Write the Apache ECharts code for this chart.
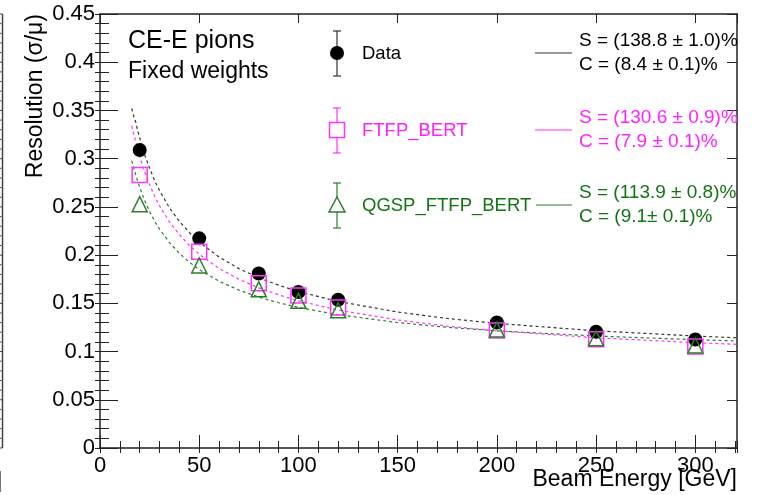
<!DOCTYPE html>
<html>
<head>
<meta charset="utf-8">
<script src="https://cdn.jsdelivr.net/npm/echarts@6/dist/echarts.min.js"></script>
<style>html,body{margin:0;padding:0;background:#fff;}#c{width:761px;height:495px;}</style>
</head>
<body>
<div id="c"></div>
<script>
// ---- data ----
const E_POINTS = [20, 50, 80, 100, 120, 200, 250, 300];
const RES_DATA = [0.309, 0.2174, 0.181, 0.1618, 0.1537, 0.1302, 0.1206, 0.1125];
const RES_FTFP = [0.283, 0.2034, 0.1708, 0.158, 0.1457, 0.1218, 0.1128, 0.1052];
const RES_QGSP = [0.2528, 0.1892, 0.1645, 0.1526, 0.1428, 0.1228, 0.1137, 0.1063];

const FIT_E = [16, 17, 18, 19, 20, 22, 25, 28, 30, 35, 40, 45, 50, 60, 70, 80, 90, 100, 120, 150, 175, 200, 250, 300, 321];
const FIT_DATA = [0.352, 0.344, 0.338, 0.329, 0.3215, 0.307, 0.290, 0.275, 0.267, 0.249, 0.235, 0.2235, 0.2135, 0.198, 0.186, 0.1765, 0.1688, 0.1622, 0.152, 0.141, 0.1343, 0.1292, 0.1215, 0.1161, 0.1143];
const FIT_FTFP = [0.334, 0.325, 0.318, 0.310, 0.3025, 0.289, 0.273, 0.259, 0.2512, 0.2345, 0.2211, 0.2101, 0.2009, 0.1862, 0.175, 0.166, 0.1588, 0.1526, 0.143, 0.1327, 0.1264, 0.1215, 0.1143, 0.1092, 0.1075];
const FIT_QGSP = [0.298, 0.291, 0.2835, 0.2765, 0.2705, 0.2590, 0.2453, 0.2335, 0.227, 0.213, 0.2018, 0.1927, 0.185, 0.1729, 0.1637, 0.1565, 0.1506, 0.1458, 0.1382, 0.1301, 0.1251, 0.1215, 0.1161, 0.1123, 0.1110];

const SERIES_NAMES = ['Data', 'FTFP_BERT', 'QGSP_FTFP_BERT'];
const FIT_TEXT_S = ['S = (138.8 \u00b1 1.0)%', 'S = (130.6 \u00b1 0.9)%', 'S = (113.9 \u00b1 0.8)%'];
const FIT_TEXT_C = ['C = (8.4 \u00b1 0.1)%', 'C = (7.9 \u00b1 0.1)%', 'C = (9.1\u00b1 0.1)%'];
const TITLE_LINES = ['CE-E pions', 'Fixed weights'];
const X_NAME = 'Beam Energy [GeV]';
const Y_NAME = 'Resolution (\u03c3/\u03bc)';

// ---- styling ----
const FONT = "'Liberation Sans', Arial, Helvetica, sans-serif";
const C_BLACK = '#000000';
const C_FIT_BLACK = '#333333';
const C_MAG = '#ff33ff';
const C_MAG_TXT = '#ff22ff';
const C_GRN = '#2a7f2a';
const C_GRN_TXT = '#137413';
const AX = '#222';

const zip = (xs, ys) => xs.map((x, i) => [x, ys[i]]);

const chart = echarts.init(document.getElementById('c'), null, {renderer: 'canvas'});

const XMAX = 321, YMAX = 0.45;
function xAx(opts) {
  return Object.assign({
    type: 'value', min: 0, max: XMAX, position: 'bottom',
    splitLine: {show: false},
    axisLine: {show: false},
    axisLabel: {show: false},
    axisTick: {show: true, inside: true, length: 6, lineStyle: {color: AX, width: 1}}
  }, opts);
}
function yAx(opts) {
  return Object.assign({
    type: 'value', min: 0, max: YMAX, position: 'left',
    splitLine: {show: false},
    axisLine: {show: false},
    axisLabel: {show: false},
    axisTick: {show: true, inside: true, length: 6, lineStyle: {color: AX, width: 1}}
  }, opts);
}

const option = {
  backgroundColor: '#fff',
  animation: false,
  grid: {left: 100, right: 24, top: 14, bottom: 47},
  xAxis: [
    xAx({interval: 50, axisLine: {show: true, onZero: false, lineStyle: {color: AX, width: 1.5}},
         axisLabel: {show: true, margin: 7, fontSize: 22, fontFamily: FONT, color: C_BLACK, showMaxLabel: false},
         axisTick: {show: true, inside: true, length: 13, lineStyle: {color: AX, width: 1}}}),
    xAx({interval: 10, axisTick: {show: true, inside: true, length: 7, lineStyle: {color: AX, width: 1}}}),
    xAx({interval: 50, position: 'top', axisLine: {show: true, onZero: false, lineStyle: {color: AX, width: 1.5}},
         axisTick: {show: true, inside: true, length: 9, lineStyle: {color: AX, width: 1}}}),
    xAx({interval: 10, position: 'top', axisTick: {show: true, inside: true, length: 5, lineStyle: {color: AX, width: 1}}})
  ],
  yAxis: [
    yAx({interval: 0.05, axisLine: {show: true, onZero: false, lineStyle: {color: AX, width: 1.5}},
         axisLabel: {show: true, margin: 5, fontSize: 22, fontFamily: FONT, color: C_BLACK},
         axisTick: {show: true, inside: true, length: 18, lineStyle: {color: AX, width: 1}}}),
    yAx({interval: 0.01, axisTick: {show: true, inside: true, length: 9, lineStyle: {color: AX, width: 1}}}),
    yAx({interval: 0.05, position: 'right', axisLine: {show: true, onZero: false, lineStyle: {color: AX, width: 1.5}},
         axisTick: {show: true, inside: true, length: 10, lineStyle: {color: AX, width: 1}}}),
    yAx({interval: 0.01, position: 'right', axisTick: {show: true, inside: true, length: 5, lineStyle: {color: AX, width: 1}}})
  ],
  series: [
    {type: 'line', name: 'fitData', data: zip(FIT_E, FIT_DATA), showSymbol: false, smooth: false,
     lineStyle: {color: C_FIT_BLACK, width: 1.2, type: [3, 3]}, z: 2, silent: true},
    {type: 'line', name: 'fitFTFP', data: zip(FIT_E, FIT_FTFP), showSymbol: false, smooth: false,
     lineStyle: {color: C_MAG, width: 1.2, type: [3, 3]}, z: 2, silent: true},
    {type: 'line', name: 'fitQGSP', data: zip(FIT_E, FIT_QGSP), showSymbol: false, smooth: false,
     lineStyle: {color: C_GRN, width: 1.2, type: [3, 3]}, z: 2, silent: true},
    {type: 'scatter', name: SERIES_NAMES[0], data: zip(E_POINTS, RES_DATA), symbol: 'circle', symbolSize: 14,
     itemStyle: {color: C_BLACK, opacity: 1}, z: 3},
    {type: 'scatter', name: SERIES_NAMES[1], data: zip(E_POINTS, RES_FTFP), symbol: 'rect', symbolSize: 15,
     itemStyle: {color: 'rgba(0,0,0,0)', borderColor: C_MAG, borderWidth: 1.5, opacity: 1}, z: 4},
    {type: 'scatter', name: SERIES_NAMES[2], data: zip(E_POINTS, RES_QGSP), symbol: 'triangle', symbolSize: [15, 15],
     itemStyle: {color: 'rgba(0,0,0,0)', borderColor: C_GRN, borderWidth: 1.5, opacity: 1}, z: 5}
  ],
  graphic: []
};

const G = option.graphic;
function txt(x, y, text, size, fill, align, extra) {
  G.push(Object.assign({type: 'text', x: x, y: y, z: 10,
    style: {text: text, font: size + 'px ' + FONT, fill: fill, align: align || 'left', verticalAlign: 'middle'}}, extra || {}));
}
function seg(x1, y1, x2, y2, color, w) {
  G.push({type: 'line', z: 10, shape: {x1: x1, y1: y1, x2: x2, y2: y2}, style: {stroke: color, lineWidth: w || 1.2}});
}

// title texts
txt(128, 41, TITLE_LINES[0], 25, C_BLACK);
txt(128, 72, TITLE_LINES[1], 23, C_BLACK);
// axis names
txt(737, 480, X_NAME, 23, C_BLACK, 'right');
txt(36, 14, Y_NAME, 23, C_BLACK, 'right', {rotation: Math.PI / 2});

// legend
const LX = 337;
const LY = [53, 130, 205];
const LCOL = ['#333', C_MAG, C_GRN];
const TCOL = [C_BLACK, C_MAG_TXT, C_GRN_TXT];
for (let i = 0; i < 3; i++) {
  seg(LX, LY[i] - 22, LX, LY[i] + 23, LCOL[i], 1.2);
  seg(LX - 4, LY[i] - 22, LX + 4, LY[i] - 22, LCOL[i], 1.2);
  seg(LX - 4, LY[i] + 23, LX + 4, LY[i] + 23, LCOL[i], 1.2);
  txt(362, LY[i] + 1, SERIES_NAMES[i], 18.5, TCOL[i]);
  seg(i === 2 ? 536 : 535, LY[i], 572, LY[i], LCOL[i], 1.2);
  txt(579, LY[i] - 12, FIT_TEXT_S[i], 19, TCOL[i]);
  txt(579, LY[i] + 12, FIT_TEXT_C[i], 19, TCOL[i]);
}
G.push({type: 'circle', z: 11, shape: {cx: LX, cy: LY[0], r: 7}, style: {fill: C_BLACK}});
G.push({type: 'rect', z: 11, shape: {x: LX - 7.5, y: LY[1] - 7.5, width: 15, height: 15},
        style: {fill: '#fff', stroke: C_MAG, lineWidth: 1.5}});
G.push({type: 'polygon', z: 11, shape: {points: [[LX, LY[2] - 8], [LX - 8, LY[2] + 7], [LX + 8, LY[2] + 7]]},
        style: {fill: '#fff', stroke: C_GRN, lineWidth: 1.5}});

// cut-off neighbouring panel at the far left (decoration)
seg(2.5, 14, 2.5, 448, '#444', 1.5);
for (let k = 0; k <= 45; k++) {
  const yy = 448 - k * (434 / 45);
  seg(0, yy, k % 5 === 0 ? 2.5 : 1.5, yy, '#444', 1);
}
txt(-4, 481, ']', 22, C_BLACK);

chart.setOption(option);
</script>
</body>
</html>
